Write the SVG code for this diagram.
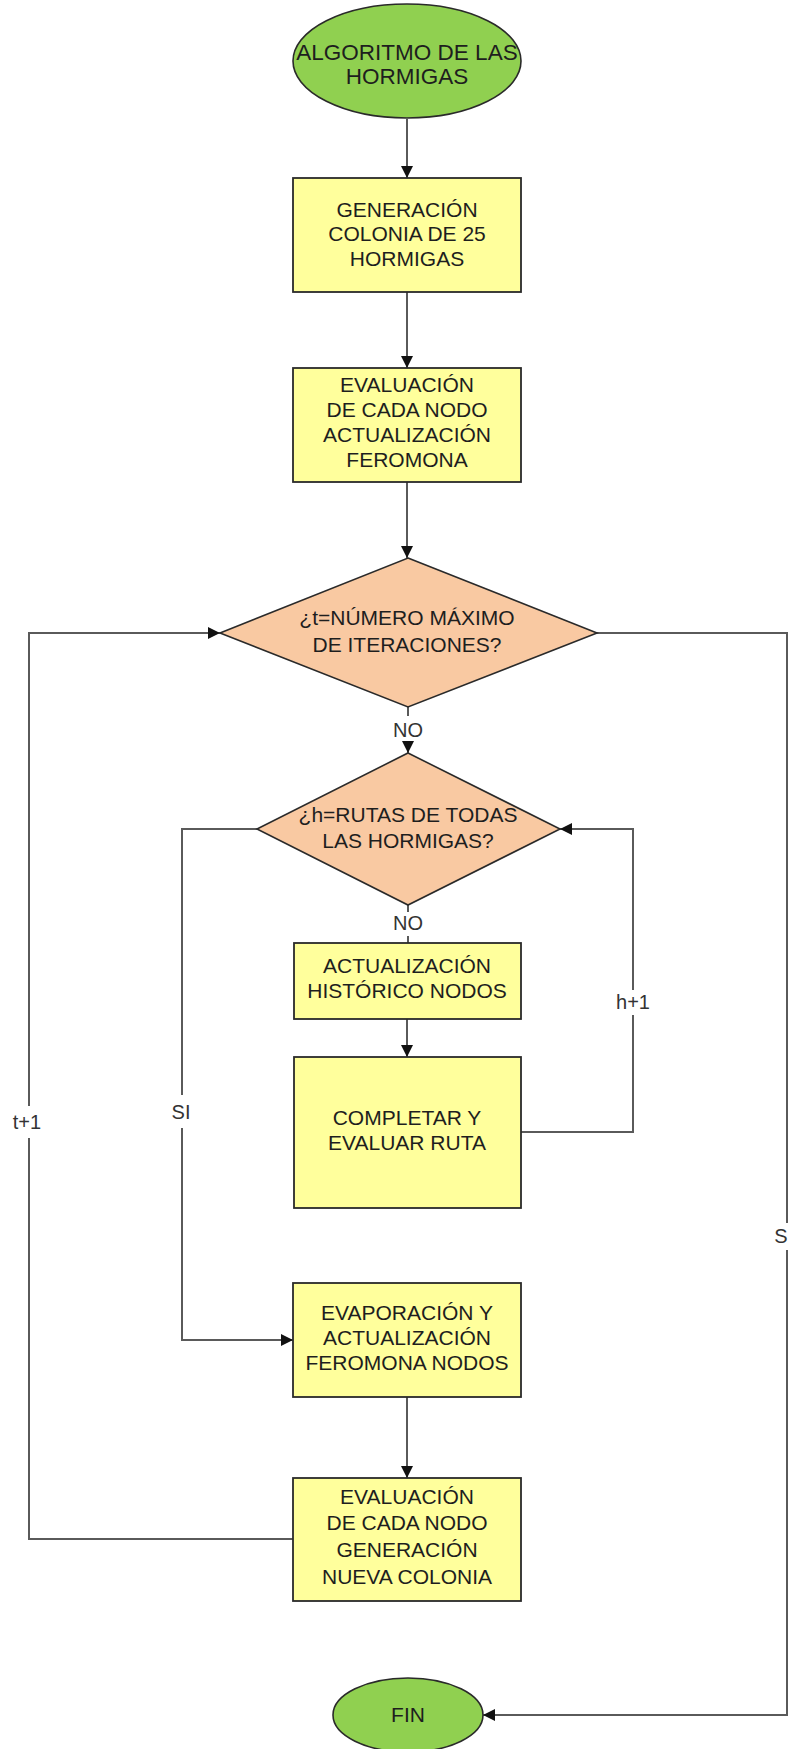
<svg xmlns="http://www.w3.org/2000/svg" width="790" height="1749" viewBox="0 0 790 1749">
  <defs>
    <marker id="arr" markerUnits="userSpaceOnUse" markerWidth="14" markerHeight="14" refX="12" refY="6" orient="auto">
      <path d="M0,0 L12,6 L0,12 z" fill="#111"/>
    </marker>
    <style>
      .term { fill: #90d050; stroke: #2a2a2a; stroke-width: 1.6; }
      .proc { fill: #ffff9c; stroke: #2a2a2a; stroke-width: 1.8; }
      .dec { fill: #f9c9a2; stroke: #2a2a2a; stroke-width: 1.6; }
      .conn { fill: none; stroke: #5a5a5a; stroke-width: 2; }
      text { font-family: "Liberation Sans", Arial, sans-serif; font-size: 21px; fill: #1e1e1e; text-anchor: middle; }
      .big { font-size: 22.5px; }
      .lbl { fill: #333; font-size: 20px; }
    </style>
  </defs>
  <rect width="790" height="1749" fill="#fff"/>

  <!-- connectors -->
  <g id="connectors">
    <path class="conn" d="M407 119 V178" marker-end="url(#arr)"/>
    <path class="conn" d="M407 292 V368" marker-end="url(#arr)"/>
    <path class="conn" d="M407 482 V558" marker-end="url(#arr)"/>
    <path class="conn" d="M408 707 V716 M408 741 V753" marker-end="url(#arr)"/>
    <path class="conn" d="M408 905 V912 M408 936 V943"/>
    <path class="conn" d="M407 1019 V1057" marker-end="url(#arr)"/>
    <path class="conn" d="M521 1132 H633 V1015 M633 990 V829 H560" marker-end="url(#arr)"/>
    <path class="conn" d="M257 829 H182 V1095 M182 1128 V1340 H293" marker-end="url(#arr)"/>
    <path class="conn" d="M407 1397 V1478" marker-end="url(#arr)"/>
    <path class="conn" d="M293 1539 H29 V1138 M29 1106 V633 H220" marker-end="url(#arr)"/>
    <path class="conn" d="M597 633 H787 V1223 M787 1250 V1715 H483" marker-end="url(#arr)"/>
    <text class="lbl" x="408" y="737">NO</text>
    <text class="lbl" x="408" y="930">NO</text>
    <text class="lbl" x="633" y="1009">h+1</text>
    <text class="lbl" x="181" y="1119">SI</text>
    <text class="lbl" x="27" y="1129">t+1</text>
    <text class="lbl" x="781" y="1243">S</text>
  </g>

  <g id="inicio">
    <ellipse class="term" cx="407" cy="61" rx="114" ry="57"/>
    <text class="big" x="407" y="60">ALGORITMO DE LAS</text>
    <text class="big" x="407" y="84">HORMIGAS</text>
  </g>

  <g id="generacion">
    <rect class="proc" x="293" y="178" width="228" height="114"/>
    <text x="407" y="217">GENERACIÓN</text>
    <text x="407" y="241">COLONIA DE 25</text>
    <text x="407" y="266">HORMIGAS</text>
  </g>

  <g id="evaluacion1">
    <rect class="proc" x="293" y="368" width="228" height="114"/>
    <text x="407" y="392">EVALUACIÓN</text>
    <text x="407" y="417">DE CADA NODO</text>
    <text x="407" y="442">ACTUALIZACIÓN</text>
    <text x="407" y="467">FEROMONA</text>
  </g>

  <g id="decision-t">
    <polygon class="dec" points="408,558 597,633 408,707 220,633"/>
    <text x="407" y="625">¿t=NÚMERO MÁXIMO</text>
    <text x="407" y="652">DE ITERACIONES?</text>
  </g>

  <g id="decision-h">
    <polygon class="dec" points="408,753 560,829 408,905 257,829"/>
    <text x="408" y="822">¿h=RUTAS DE TODAS</text>
    <text x="408" y="848">LAS HORMIGAS?</text>
  </g>

  <g id="historico">
    <rect class="proc" x="294" y="943" width="227" height="76"/>
    <text x="407" y="973">ACTUALIZACIÓN</text>
    <text x="407" y="998">HISTÓRICO NODOS</text>
  </g>

  <g id="completar">
    <rect class="proc" x="294" y="1057" width="227" height="151"/>
    <text x="407" y="1125">COMPLETAR Y</text>
    <text x="407" y="1150">EVALUAR RUTA</text>
  </g>

  <g id="evaporacion">
    <rect class="proc" x="293" y="1283" width="228" height="114"/>
    <text x="407" y="1320">EVAPORACIÓN Y</text>
    <text x="407" y="1345">ACTUALIZACIÓN</text>
    <text x="407" y="1370">FEROMONA NODOS</text>
  </g>

  <g id="evaluacion2">
    <rect class="proc" x="293" y="1478" width="228" height="123"/>
    <text x="407" y="1504">EVALUACIÓN</text>
    <text x="407" y="1530">DE CADA NODO</text>
    <text x="407" y="1557">GENERACIÓN</text>
    <text x="407" y="1584">NUEVA COLONIA</text>
  </g>

  <g id="fin">
    <ellipse class="term" cx="408" cy="1715" rx="75" ry="37"/>
    <text x="408" y="1722">FIN</text>
  </g>
</svg>
